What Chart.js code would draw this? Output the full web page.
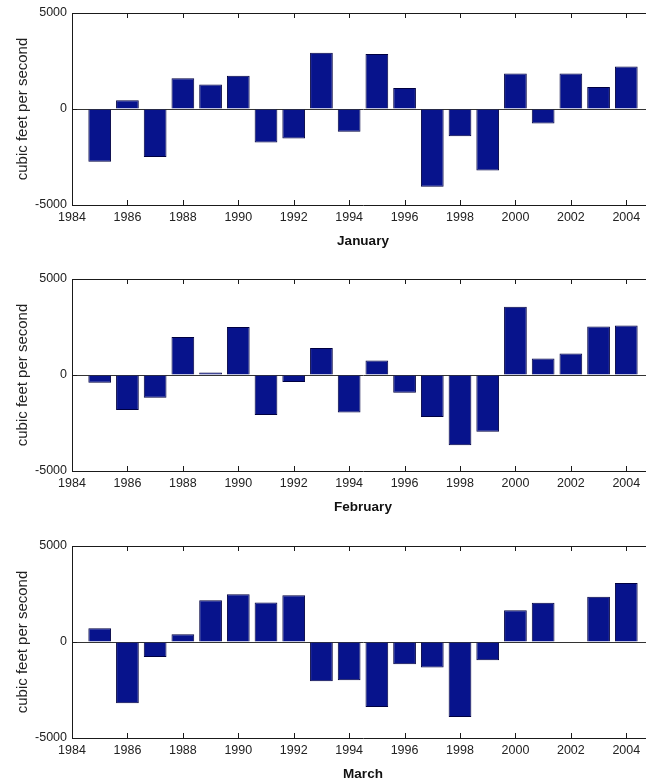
<!DOCTYPE html>
<html>
<head>
<meta charset="utf-8">
<script src="https://cdn.jsdelivr.net/npm/chart.js@4/dist/chart.umd.min.js"></script>
<style>
  html, body { margin: 0; padding: 0; background: #fff; overflow: hidden; width: 646px; height: 783px; }
  .panel { position: absolute; left: 0; }
</style>
</head>
<body>
<div class="panel" style="top:0px"><canvas id="jan" width="656" height="250"></canvas></div>
<div class="panel" style="top:266px"><canvas id="feb" width="656" height="250"></canvas></div>
<div class="panel" style="top:533px"><canvas id="mar" width="656" height="250"></canvas></div>
<script>
// years on the x axis (one bar per year)
const years = [1985, 1986, 1987, 1988, 1989, 1990, 1991, 1992, 1993, 1994,
               1995, 1996, 1997, 1998, 1999, 2000, 2001, 2002, 2003, 2004];

// cubic feet per second
const janValues = [-2750, 450, -2500, 1600, 1275, 1730, -1750, -1540, 2925, -1180,
                   2860, 1090, -4050, -1420, -3200, 1850, -750, 1850, 1150, 2220];
const febValues = [-400, -1820, -1180, 1975, 130, 2500, -2080, -360, 1400, -1950,
                   760, -920, -2190, -3660, -2950, 3550, 860, 1120, 2530, 2580];
const marValues = [710, -3190, -780, 400, 2180, 2490, 2060, 2430, -2050, -1990,
                   -3380, -1160, -1330, -3900, -950, 1660, 2050, null, 2360, 3070];

const xTicks = [1984, 1986, 1988, 1990, 1992, 1994, 1996, 1998, 2000, 2002, 2004];
const yTicks = [-5000, 0, 5000];

const FONT = "'Liberation Sans', Arial, sans-serif";
const AXIS = "#1a1a1a";

// matlab style box: top line plus inward tick marks
const boxTicks = {
  id: "boxTicks",
  afterDraw(chart) {
    const { ctx, chartArea: a, scales } = chart;
    const x = scales.x, y = scales.y;
    ctx.save();
    ctx.strokeStyle = AXIS;
    ctx.lineWidth = 1;
    ctx.beginPath();
    ctx.moveTo(a.left, a.top + 0.5);
    ctx.lineTo(a.right, a.top + 0.5);
    x.ticks.forEach((t) => {
      const px = Math.round(x.getPixelForValue(t.value)) + 0.5;
      ctx.moveTo(px, a.bottom);
      ctx.lineTo(px, a.bottom - 5);
      ctx.moveTo(px, a.top);
      ctx.lineTo(px, a.top + 5);
    });
    y.ticks.forEach((t) => {
      const py = Math.round(y.getPixelForValue(t.value)) + 0.5;
      ctx.moveTo(a.left, py);
      ctx.lineTo(a.left + 5, py);
    });
    ctx.stroke();
    ctx.restore();
  },
};

function makeChart(id, values, month) {
  const canvas = document.getElementById(id);
  const points = years.map((yr, i) => ({ x: yr, y: values[i] }));
  return new Chart(canvas.getContext("2d"), {
    type: "bar",
    data: {
      datasets: [
        {
          data: points,
          backgroundColor: "#07138c",
          borderColor: "#000040",
          borderWidth: 1,
          barPercentage: 0.82,
          categoryPercentage: 1.0,
        },
      ],
    },
    options: {
      responsive: false,
      animation: false,
      devicePixelRatio: 1,
      layout: { padding: { top: 13, right: 2, bottom: 0, left: 0 } },
      plugins: { legend: { display: false }, tooltip: { enabled: false } },
      scales: {
        x: {
          type: "linear",
          offset: false,
          min: 1984,
          max: 2005,
          afterFit: (s) => { s.height = 45; },
          afterBuildTicks: (s) => { s.ticks = xTicks.map((v) => ({ value: v })); },
          grid: { display: false, drawTicks: false, offset: false },
          border: { display: true, color: AXIS, width: 1 },
          ticks: {
            padding: 5,
            color: "#222",
            font: { family: FONT, size: 12.5 },
            maxRotation: 0,
            callback: (v) => String(v),
          },
          title: {
            display: true,
            text: month,
            color: "#111",
            padding: { top: 0, bottom: 1 },
            font: { family: FONT, size: 13.5, weight: "bold", lineHeight: 1.2 },
          },
        },
        y: {
          min: -5000,
          max: 5000,
          afterFit: (s) => { s.width = 72; },
          afterBuildTicks: (s) => { s.ticks = yTicks.map((v) => ({ value: v })); },
          grid: {
            drawTicks: false,
            color: (c) => (c.tick && c.tick.value === 0 ? "#333" : "rgba(0,0,0,0)"),
          },
          border: { display: true, color: AXIS, width: 1 },
          ticks: {
            padding: 5,
            color: "#222",
            font: { family: FONT, size: 12.5 },
            callback: (v) => String(v),
          },
          title: {
            display: true,
            text: "cubic feet per second",
            color: "#222",
            padding: { top: 14, bottom: 0 },
            font: { family: FONT, size: 15, lineHeight: 1.2 },
          },
        },
      },
    },
    plugins: [boxTicks],
  });
}

makeChart("jan", janValues, "January");
makeChart("feb", febValues, "February");
makeChart("mar", marValues, "March");
</script>
</body>
</html>
